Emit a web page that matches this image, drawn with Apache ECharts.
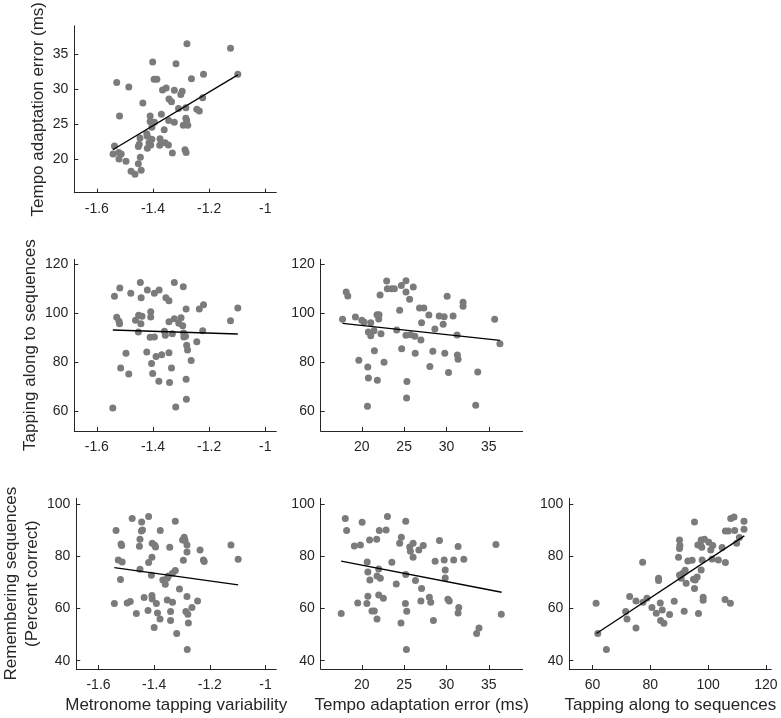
<!DOCTYPE html>
<html>
<head>
<meta charset="utf-8">
<script src="https://cdn.jsdelivr.net/npm/echarts@6/dist/echarts.min.js"></script>
<style>
html,body{margin:0;padding:0;background:#fff;}
#chart{width:781px;height:718px;}
</style>
</head>
<body>
<div id="chart"></div>
<script>
// ---- axis tick labels ----
const metronomeTicks = [-1.6, -1.4, -1.2, -1];
const tempoTicks = [20, 25, 30, 35];
const tappingTicks = [60, 80, 100, 120];
const rememberTicks = [40, 60, 80, 100];

// ---- axis labels ----
const varNames = {
  metronome: 'Metronome tapping variability',
  tempo: 'Tempo adaptation error (ms)',
  tapping: 'Tapping along to sequences',
  remember: 'Remembering sequences\n(Percent correct)'
};

// ---- scatter data: [x, y] ----
const metVsTempo = [
  [-1.279,36.44],[-1.124,35.79],[-1.401,33.84],[-1.318,33.56],[-1.529,30.91],[-1.486,30.26],
  [-1.396,31.37],[-1.386,31.37],[-1.263,31.42],[-1.220,32.07],[-1.098,32.07],[-1.366,29.84],
  [-1.353,30.12],[-1.324,29.79],[-1.296,29.65],[-1.301,29.19],[-1.223,28.72],[-1.343,28.53],
  [-1.334,28.16],[-1.436,27.98],[-1.309,27.19],[-1.283,27.28],[-1.244,27.09],[-1.235,26.81],
  [-1.519,26.12],[-1.370,26.35],[-1.410,26.12],[-1.344,25.47],[-1.324,25.23],[-1.410,25.33],
  [-1.395,25.23],[-1.283,25.79],[-1.280,25.47],[-1.292,24.77],[-1.276,24.77],[-1.404,24.49],
  [-1.360,24.16],[-1.422,23.56],[-1.420,23.23],[-1.446,22.95],[-1.404,22.77],[-1.414,22.30],
  [-1.375,22.86],[-1.357,22.30],[-1.345,21.98],[-1.376,21.93],[-1.449,22.07],[-1.452,21.74],
  [-1.537,21.84],[-1.408,21.98],[-1.420,21.51],[-1.286,21.28],[-1.282,20.91],[-1.331,20.81],
  [-1.542,20.67],[-1.522,20.91],[-1.513,20.67],[-1.521,19.98],[-1.496,19.65],[-1.445,20.21],
  [-1.452,19.28],[-1.478,18.21],[-1.464,17.79],[-1.442,18.35]
];
const metVsTapping = [
  [-1.445,112.46],[-1.324,112.46],[-1.292,110.70],[-1.518,110.16],[-1.537,106.77],[-1.479,107.99],
  [-1.442,106.23],[-1.420,109.35],[-1.395,107.99],[-1.378,109.35],[-1.354,106.23],[-1.343,105.01],
  [-1.282,101.63],[-1.235,101.63],[-1.220,103.39],[-1.098,102.03],[-1.124,96.88],[-1.529,98.24],
  [-1.521,96.61],[-1.519,95.67],[-1.462,97.02],[-1.451,99.05],[-1.439,98.65],[-1.443,95.67],
  [-1.408,100.54],[-1.408,98.37],[-1.343,96.48],[-1.324,97.70],[-1.300,98.10],[-1.308,95.80],
  [-1.294,94.85],[-1.452,92.28],[-1.410,90.11],[-1.395,90.25],[-1.359,92.55],[-1.356,90.93],
  [-1.331,91.60],[-1.291,91.87],[-1.284,90.52],[-1.290,90.25],[-1.223,92.82],[-1.244,88.35],
  [-1.280,86.86],[-1.277,84.97],[-1.496,83.61],[-1.422,84.15],[-1.389,82.26],[-1.369,83.07],
  [-1.343,83.88],[-1.264,80.63],[-1.405,79.41],[-1.515,77.65],[-1.486,75.21],[-1.401,75.35],
  [-1.334,77.65],[-1.379,72.23],[-1.341,71.69],[-1.282,73.05],[-1.281,64.92],[-1.543,61.40],
  [-1.319,61.80]
];
const tempoVsTapping = [
  [17.73,97.43],[18.16,108.53],[18.35,106.91],[19.25,98.37],[19.65,80.77],[20.00,97.02],
  [20.27,96.34],[21.06,96.07],[20.78,92.28],[21.06,90.79],[21.45,92.82],[21.80,99.32],
  [22.00,97.56],[22.04,99.32],[22.27,91.60],[22.16,107.31],[20.71,78.06],[20.78,73.59],
  [21.49,84.69],[21.84,72.64],[20.67,62.08],[22.63,79.95],[22.94,113.00],[23.02,109.89],
  [23.53,109.89],[23.85,109.89],[24.12,93.09],[24.47,101.08],[24.67,111.24],[25.22,113.14],
  [25.22,108.53],[25.65,105.55],[26.08,110.56],[24.71,85.51],[25.22,90.93],[25.76,91.20],
  [26.27,90.52],[25.33,72.10],[25.29,65.46],[26.31,83.61],[26.82,102.03],[27.33,102.03],
  [27.92,99.19],[27.06,96.07],[28.63,93.50],[29.14,98.78],[29.73,98.51],[29.61,95.39],
  [30.08,106.77],[30.78,98.78],[31.96,104.33],[31.96,102.71],[31.25,91.06],[26.98,89.03],
  [28.39,84.42],[29.80,83.61],[31.29,82.93],[31.37,81.17],[28.04,78.19],[30.24,75.76],
  [33.69,76.03],[35.69,97.43],[36.31,87.54],[33.45,62.48]
];
const metVsRemember = [
  [-1.420,95.19],[-1.479,94.43],[-1.445,93.15],[-1.442,90.09],[-1.446,89.70],[-1.324,93.40],
  [-1.537,89.83],[-1.378,89.83],[-1.451,86.51],[-1.519,84.72],[-1.517,84.09],[-1.453,83.83],
  [-1.407,84.98],[-1.398,84.21],[-1.395,83.57],[-1.344,83.45],[-1.292,87.28],[-1.298,86.26],
  [-1.289,86.00],[-1.282,84.34],[-1.282,81.66],[-1.235,82.43],[-1.124,84.34],[-1.529,78.60],
  [-1.515,77.83],[-1.408,79.62],[-1.420,77.57],[-1.295,78.47],[-1.223,78.60],[-1.220,77.96],
  [-1.098,78.85],[-1.451,75.02],[-1.410,72.72],[-1.324,74.51],[-1.334,73.49],[-1.349,72.47],
  [-1.369,70.94],[-1.360,69.28],[-1.353,71.57],[-1.521,71.06],[-1.309,67.49],[-1.436,64.17],
  [-1.408,64.94],[-1.407,63.66],[-1.392,61.87],[-1.353,63.28],[-1.334,62.38],[-1.282,64.55],
  [-1.244,62.89],[-1.543,61.87],[-1.497,62.13],[-1.486,62.64],[-1.264,60.34],[-1.422,59.19],
  [-1.464,58.04],[-1.388,58.30],[-1.379,56.00],[-1.341,58.81],[-1.286,58.81],[-1.279,57.79],
  [-1.277,54.47],[-1.341,55.36],[-1.400,52.68],[-1.319,50.38],[-1.281,44.25]
];
const tempoVsRemember = [
  [18.05,94.43],[18.21,89.83],[20.04,93.02],[23.03,95.19],[25.19,93.40],[22.07,89.83],
  [22.87,90.09],[24.67,87.28],[20.92,86.26],[21.76,86.51],[19.12,83.96],[19.84,84.34],
  [24.47,84.98],[25.66,83.57],[26.06,84.98],[25.74,81.91],[26.06,79.62],[26.74,82.43],
  [27.26,84.09],[29.17,86.00],[31.37,83.70],[35.84,84.47],[20.64,77.83],[23.55,77.70],
  [28.66,78.09],[29.73,78.60],[30.85,78.60],[32.05,78.85],[20.72,74.00],[20.96,70.94],
  [22.00,75.15],[22.19,71.57],[21.80,72.47],[25.19,72.98],[26.34,70.68],[29.85,74.77],
  [29.85,71.70],[24.07,69.40],[27.06,67.62],[20.72,64.68],[22.00,65.19],[22.55,63.91],
  [27.98,64.30],[28.14,62.38],[26.98,62.89],[30.17,63.53],[30.33,62.89],[19.52,62.13],
  [20.60,61.87],[25.15,61.87],[21.20,59.06],[21.48,59.06],[25.31,58.94],[31.45,60.34],
  [31.37,58.30],[17.57,58.04],[21.80,56.00],[24.63,54.47],[28.46,55.36],[36.47,57.79],
  [33.84,52.55],[33.56,50.38],[25.27,44.25]
];
const tappingVsRemember = [
  [95.29,93.15],[105.98,89.70],[107.01,89.70],[107.82,94.43],[108.97,95.06],[112.41,93.40],
  [112.41,90.34],[109.20,89.83],[110.80,87.15],[109.89,84.98],[90.11,86.26],[90.23,84.09],
  [90.11,82.94],[89.77,79.62],[97.59,86.26],[98.74,86.51],[97.36,84.34],[96.44,84.34],
  [97.82,83.45],[100.23,85.36],[101.61,84.09],[100.92,82.43],[104.83,83.32],[101.38,78.98],
  [103.56,78.60],[94.48,78.47],[92.99,78.21],[77.36,77.70],[97.93,78.60],[105.98,77.57],
  [97.59,74.77],[90.11,72.85],[91.26,73.49],[92.07,74.64],[90.69,71.57],[92.41,69.66],
  [95.52,70.94],[96.21,72.09],[94.94,71.19],[82.87,71.57],[82.87,70.68],[95.29,67.62],
  [72.87,64.55],[75.06,62.89],[77.47,62.38],[78.85,63.91],[80.57,60.34],[83.45,62.13],
  [84.14,59.45],[82.07,58.17],[88.28,62.77],[98.28,64.30],[98.28,63.15],[105.86,63.40],
  [107.70,62.00],[71.49,58.81],[71.95,56.00],[86.67,57.66],[91.72,58.94],[96.67,58.04],
  [75.06,52.55],[83.56,55.36],[84.71,54.34],[61.26,62.00],[61.84,50.38],[64.83,44.25]
];

// ---- least-squares lines (end points) ----
const fitMetTempo = [[-1.543,21.28],[-1.098,31.98]];
const fitMetTapping = [[-1.543,93.09],[-1.098,91.47]];
const fitTempoTapping = [[17.73,95.80],[36.31,88.89]];
const fitMetRemember = [[-1.543,75.66],[-1.098,69.02]];
const fitTempoRemember = [[17.57,78.09],[36.51,66.21]];
const fitTappingRemember = [[61.38,50.38],[112.53,87.79]];

// ---- axis ranges ----
const ranges = {
  metronome: [-1.68, -0.961],
  tempo: [15.15, 39.0],
  tapping: [52.0, 121.85],
  remember: [36.8, 102.2]
};
const ticks = { metronome: metronomeTicks, tempo: tempoTicks, tapping: tappingTicks, remember: rememberTicks };

const FONT = 'Liberation Sans, Arial, sans-serif';
const AX = '#262626';

const colL = [74.3, 320.7, 569.3];
const rowT = [22.7, 259.3, 498.3];
const rowH = [170, 171.7, 170.7];
const W = 202;

const panels = [
  { r: 0, c: 0, xv: 'metronome', yv: 'tempo', data: metVsTempo, fit: fitMetTempo, xName: false, yName: true, yGap: 25 },
  { r: 1, c: 0, xv: 'metronome', yv: 'tapping', data: metVsTapping, fit: fitMetTapping, xName: false, yName: true, yGap: 25 },
  { r: 1, c: 1, xv: 'tempo', yv: 'tapping', data: tempoVsTapping, fit: fitTempoTapping, xName: false, yName: false },
  { r: 2, c: 0, xv: 'metronome', yv: 'remember', data: metVsRemember, fit: fitMetRemember, xName: true, yName: true, yGap: 30 },
  { r: 2, c: 1, xv: 'tempo', yv: 'remember', data: tempoVsRemember, fit: fitTempoRemember, xName: true, yName: false },
  { r: 2, c: 2, xv: 'tapping', yv: 'remember', data: tappingVsRemember, fit: fitTappingRemember, xName: true, yName: false }
];

const grid = [], xAxis = [], yAxis = [], series = [];
function fmt(v) { return String(v); }
panels.forEach((p, i) => {
  grid.push({ left: colL[p.c], top: rowT[p.r], width: W, height: rowH[p.r], containLabel: false });
  const common = {
    type: 'value', gridIndex: i, scale: true,
    splitLine: { show: false },
    axisLine: { show: true, onZero: false, lineStyle: { color: AX, width: 1 } },
    nameTextStyle: { fontFamily: FONT, fontSize: 17, color: AX, lineHeight: 21 },
    nameLocation: 'middle'
  };
  xAxis.push(Object.assign({}, common, {
    min: ranges[p.xv][0], max: ranges[p.xv][1],
    axisTick: { show: true, inside: true, length: 4, lineStyle: { color: AX }, customValues: ticks[p.xv] },
    axisLabel: { fontFamily: FONT, fontSize: 14, color: AX, margin: 9, customValues: ticks[p.xv], formatter: fmt },
    name: p.xName ? varNames[p.xv] : '', nameGap: 26
  }));
  yAxis.push(Object.assign({}, common, {
    min: ranges[p.yv][0], max: ranges[p.yv][1],
    axisTick: { show: true, inside: true, length: 4, lineStyle: { color: AX }, customValues: ticks[p.yv] },
    axisLabel: { fontFamily: FONT, fontSize: 14, color: AX, margin: 6, customValues: ticks[p.yv], formatter: fmt },
    name: p.yName ? varNames[p.yv] : '', nameGap: p.yGap || 30, nameRotate: 90
  }));
  series.push({
    type: 'scatter', xAxisIndex: i, yAxisIndex: i, data: p.data,
    symbolSize: 7, itemStyle: { color: '#7b7b7b', opacity: 1 }, silent: true, z: 2
  });
  series.push({
    type: 'line', xAxisIndex: i, yAxisIndex: i, data: p.fit,
    symbol: 'none', lineStyle: { color: '#000', width: 1.3 }, silent: true, z: 3
  });
});

const chart = echarts.init(document.getElementById('chart'), null, { renderer: 'canvas' });
chart.setOption({
  animation: false,
  backgroundColor: '#fff',
  textStyle: { fontFamily: FONT },
  grid, xAxis, yAxis, series
});
</script>
</body>
</html>
